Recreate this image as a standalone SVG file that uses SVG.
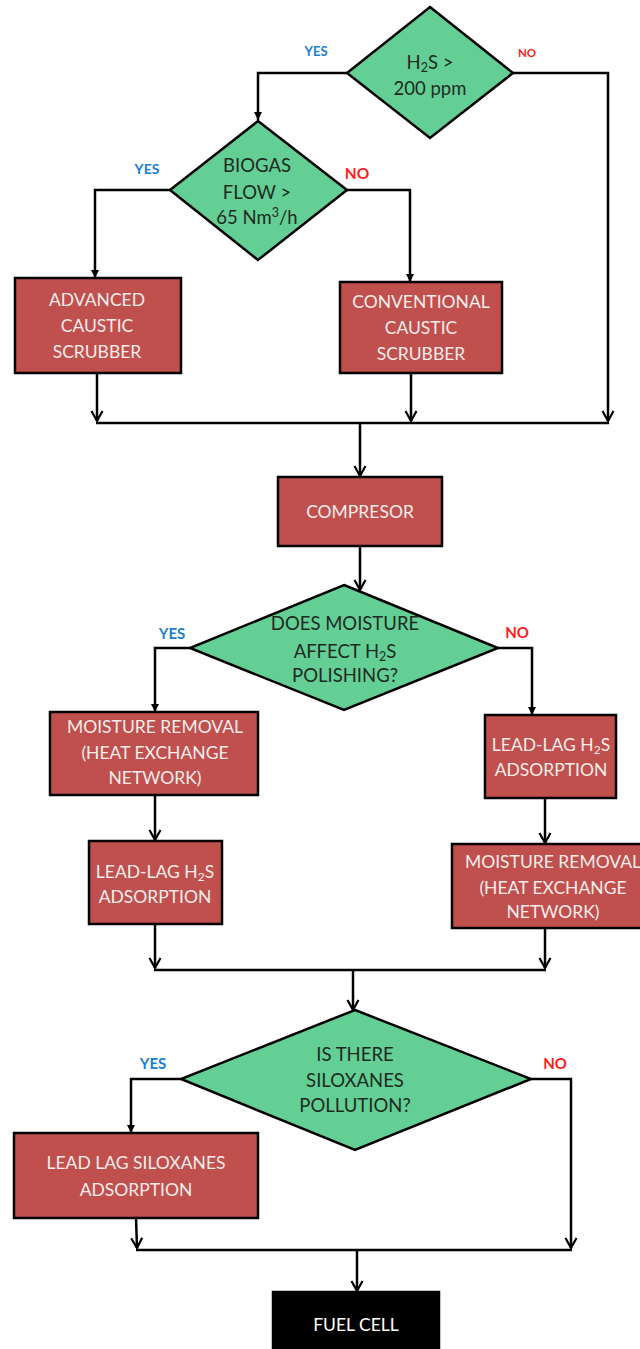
<svg xmlns="http://www.w3.org/2000/svg" width="640" height="1349" viewBox="0 0 640 1349">
<style>
.box{fill:#c0504d;stroke:#000;stroke-width:2.5}
.dia{fill:#63cf95;stroke:#000;stroke-width:2.5}
.blk{fill:#000;stroke:#000;stroke-width:2.5}
.bt{font-family:Lato,"Liberation Sans",sans-serif;font-size:17.5px;fill:#f7ecec;text-anchor:middle}
.dt{font-family:Lato,"Liberation Sans",sans-serif;font-size:18.5px;fill:#1e2a22;text-anchor:middle}
.yes{font-family:Lato,"Liberation Sans",sans-serif;font-weight:bold;fill:#1a7fd0;text-anchor:middle}
.no{font-family:Lato,"Liberation Sans",sans-serif;font-weight:bold;fill:#ff1a1a;text-anchor:middle}
.c{fill:none;stroke:#000;stroke-width:2.5}
.v{marker-end:url(#vee)}
.t{marker-end:url(#tri)}
</style>
<defs>
<marker id="vee" markerUnits="userSpaceOnUse" markerWidth="14" markerHeight="14" refX="11" refY="7" orient="auto">
<path d="M1,1.5 L11,7 L1,12.5" fill="none" stroke="#000" stroke-width="2.2"/>
</marker>
<marker id="tri" markerUnits="userSpaceOnUse" markerWidth="10" markerHeight="10" refX="8" refY="4" orient="auto">
<path d="M0,0 L8,4 L0,8 z" fill="#000"/>
</marker>
</defs>
<rect width="640" height="1349" fill="#fff"/>

<g id="connectors">
<polyline class="c t" points="347,73 258,73 258,120"/>
<polyline class="c v" points="513,73 608,73 608,421"/>
<polyline class="c t" points="170,190 95,190 95,278"/>
<polyline class="c t" points="347,190 410,190 410,282"/>
<line class="c v" x1="97" y1="373" x2="97" y2="421"/>
<line class="c v" x1="411" y1="373" x2="411" y2="421"/>
<line class="c" x1="96" y1="423" x2="609" y2="423"/>
<line class="c v" x1="360" y1="423" x2="360" y2="476"/>
<line class="c v" x1="360" y1="546" x2="360" y2="590"/>
<polyline class="c t" points="190,648 155,648 155,712"/>
<polyline class="c t" points="498,648 532,648 532,715"/>
<line class="c v" x1="155" y1="795" x2="155" y2="840"/>
<line class="c v" x1="545" y1="798" x2="545" y2="843"/>
<line class="c v" x1="155" y1="924" x2="155" y2="968"/>
<line class="c v" x1="545" y1="928" x2="545" y2="968"/>
<line class="c" x1="154" y1="970" x2="546" y2="970"/>
<line class="c v" x1="353" y1="970" x2="353" y2="1010"/>
<polyline class="c t" points="181,1079 131,1079 131,1133"/>
<polyline class="c v" points="531,1079 571,1079 571,1248"/>
<line class="c v" x1="136" y1="1218" x2="137" y2="1248"/>
<line class="c" x1="136" y1="1250" x2="572" y2="1250"/>
<line class="c v" x1="357" y1="1250" x2="357" y2="1291"/>
</g>

<g id="labels">
<text class="yes" x="316" y="56" font-size="13">YES</text>
<text class="no" x="527" y="57" font-size="11.5">NO</text>
<text class="yes" x="147" y="174" font-size="14">YES</text>
<text class="no" x="357" y="179" font-size="15.5">NO</text>
<text class="yes" x="172" y="639" font-size="15">YES</text>
<text class="no" x="517" y="638" font-size="15">NO</text>
<text class="yes" x="153" y="1069" font-size="15">YES</text>
<text class="no" x="555" y="1069" font-size="15">NO</text>
</g>

<g id="d1">
<polygon class="dia" points="430,7 513,73 430,138 347,73"/>
<text class="dt" x="430" y="69">H<tspan font-size="12.5" dy="3">2</tspan><tspan dy="-3">S &gt;</tspan></text>
<text class="dt" x="430" y="95">200 ppm</text>
</g>

<g id="d2">
<polygon class="dia" points="258,121 347,190 258,260 170,190"/>
<text class="dt" x="257" y="172">BIOGAS</text>
<text class="dt" x="257" y="199">FLOW &gt;</text>
<text class="dt" x="257" y="224">65 Nm<tspan font-size="12.5" dy="-7">3</tspan><tspan dy="7">/h</tspan></text>
</g>

<g id="advanced">
<rect class="box" x="15" y="278" width="166" height="95"/>
<text class="bt" x="97" y="306">ADVANCED</text>
<text class="bt" x="97" y="332">CAUSTIC</text>
<text class="bt" x="97" y="358">SCRUBBER</text>
</g>

<g id="conventional">
<rect class="box" x="340" y="282" width="162" height="91"/>
<text class="bt" x="421" y="308">CONVENTIONAL</text>
<text class="bt" x="421" y="334">CAUSTIC</text>
<text class="bt" x="421" y="360">SCRUBBER</text>
</g>

<g id="compresor">
<rect class="box" x="278" y="477" width="164" height="69"/>
<text class="bt" x="360" y="518">COMPRESOR</text>
</g>

<g id="d3">
<polygon class="dia" points="344,585 498,648 344,710 190,648"/>
<text class="dt" x="345" y="630">DOES MOISTURE</text>
<text class="dt" x="345" y="658">AFFECT H<tspan font-size="12.5" dy="3">2</tspan><tspan dy="-3">S</tspan></text>
<text class="dt" x="345" y="682">POLISHING?</text>
</g>

<g id="moisture-left">
<rect class="box" x="50" y="712" width="208" height="83"/>
<text class="bt" x="155" y="733">MOISTURE REMOVAL</text>
<text class="bt" x="155" y="759">(HEAT EXCHANGE</text>
<text class="bt" x="155" y="784">NETWORK)</text>
</g>

<g id="leadlag-left">
<rect class="box" x="89" y="841" width="133" height="83"/>
<text class="bt" x="155" y="878">LEAD-LAG  H<tspan font-size="12" dy="3">2</tspan><tspan dy="-3">S</tspan></text>
<text class="bt" x="155" y="903">ADSORPTION</text>
</g>

<g id="leadlag-right">
<rect class="box" x="485" y="715" width="131" height="83"/>
<text class="bt" x="551" y="751">LEAD-LAG  H<tspan font-size="12" dy="3">2</tspan><tspan dy="-3">S</tspan></text>
<text class="bt" x="551" y="776">ADSORPTION</text>
</g>

<g id="moisture-right">
<rect class="box" x="452" y="844" width="208" height="84"/>
<text class="bt" x="553" y="868">MOISTURE REMOVAL</text>
<text class="bt" x="553" y="894">(HEAT EXCHANGE</text>
<text class="bt" x="553" y="918">NETWORK)</text>
</g>

<g id="d4">
<polygon class="dia" points="355,1010 531,1079 355,1150 181,1079"/>
<text class="dt" x="355" y="1061">IS THERE</text>
<text class="dt" x="355" y="1087">SILOXANES</text>
<text class="dt" x="355" y="1112">POLLUTION?</text>
</g>

<g id="siloxanes">
<rect class="box" x="14" y="1133" width="244" height="85"/>
<text class="bt" x="136" y="1169">LEAD LAG SILOXANES</text>
<text class="bt" x="136" y="1196">ADSORPTION</text>
</g>

<g id="fuelcell">
<rect class="blk" x="273" y="1292" width="166" height="70"/>
<text class="bt" x="356" y="1331" style="fill:#fff">FUEL CELL</text>
</g>
</svg>
